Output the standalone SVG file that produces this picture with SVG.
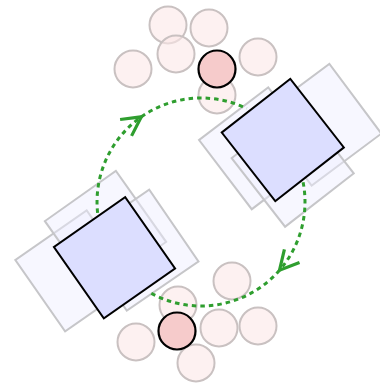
<svg xmlns="http://www.w3.org/2000/svg" width="380" height="385" viewBox="0 0 380 385">
  <style>
    .ghost { fill: #eeeeff; fill-opacity: 0.45; stroke: #c6c6c9; stroke-width: 2; }
    .main { fill: #dcdeff; stroke: #000; stroke-width: 2; }
    .dot { fill: #fbe8e8; fill-opacity: 0.6; stroke: #c9c1c1; stroke-width: 2; }
    .hot { fill: #f6cbcb; stroke: #000; stroke-width: 2.2; }
    .flow { fill: none; stroke: #2f9e2f; stroke-width: 3; stroke-dasharray: 4.5 4; }
  </style>
  <defs>
    <marker id="vhead" markerUnits="userSpaceOnUse" viewBox="-24 -14 28 28" markerWidth="28" markerHeight="28" refX="0" refY="0" orient="auto">
      <path d="M-19,-10 L0,0 L-19,10" fill="none" stroke="#2f9e2f" stroke-width="3.2"/>
    </marker>
  </defs>

  <rect width="380" height="385" fill="#fff"/>

  <!-- upper-right block: earlier positions, then current -->
  <g id="block-a">
    <rect class="ghost" x="-43.5" y="-43.5" width="87" height="87" transform="translate(320.5,124.7) rotate(53.3)"/>
    <rect class="ghost" x="-43.5" y="-43.5" width="87" height="87" transform="translate(260,148.3) rotate(52.7)"/>
    <rect class="ghost" x="-43.5" y="-43.5" width="87" height="87" transform="translate(292.7,165.7) rotate(52.1)"/>
  </g>

  <!-- lower-left block: earlier positions -->
  <g id="block-b">
    <rect class="ghost" x="-43.5" y="-43.5" width="87" height="87" transform="translate(75.9,270.9) rotate(55.1)"/>
    <rect class="ghost" x="-43.5" y="-43.5" width="87" height="87" transform="translate(105.5,231.5) rotate(54.7)"/>
    <rect class="ghost" x="-43.5" y="-43.5" width="87" height="87" transform="translate(138,250.2) rotate(55.5)"/>
  </g>

  <!-- upper cluster of particles -->
  <g id="cluster-top">
    <circle class="dot" cx="168" cy="25" r="18.5"/>
    <circle class="dot" cx="209" cy="28" r="18.5"/>
    <circle class="dot" cx="176" cy="54" r="18.5"/>
    <circle class="dot" cx="133" cy="69" r="18.5"/>
    <circle class="dot" cx="258" cy="57" r="18.5"/>
    <circle class="dot" cx="217" cy="95" r="18.5"/>
  </g>
  <g id="particle-top">
    <circle class="hot" cx="217" cy="69" r="18.5"/>
  </g>

  <!-- lower cluster of particles -->
  <g id="cluster-bottom">
    <circle class="dot" cx="232" cy="281" r="18.5"/>
    <circle class="dot" cx="178" cy="305" r="18.5"/>
    <circle class="dot" cx="219" cy="328" r="18.5"/>
    <circle class="dot" cx="258" cy="326" r="18.5"/>
    <circle class="dot" cx="136" cy="342" r="18.5"/>
    <circle class="dot" cx="196" cy="363" r="18.5"/>
  </g>
  <g id="particle-bottom">
    <circle class="hot" cx="177" cy="331" r="18.5"/>
  </g>

  <!-- circulation arcs, centre (201,202), radius 104 -->
  <g id="connectors">
    <path class="flow" d="M97.6,212.9 A104,104 0 0 1 141.4,116.8" marker-end="url(#vhead)"/>
    <path class="flow" d="M141.4,116.8 A104,104 0 0 1 246.6,108.5"/>
    <path class="flow" d="M303.1,182.2 A104,104 0 0 1 279.5,270.2" marker-end="url(#vhead)"/>
    <path class="flow" d="M279.5,270.2 A104,104 0 0 1 148.2,291.6"/>
  </g>

  <!-- current block positions -->
  <g id="block-a-now">
    <rect class="main" x="-43.5" y="-43.5" width="87" height="87" transform="translate(282.8,140) rotate(52)"/>
  </g>
  <g id="block-b-now">
    <rect class="main" x="-43.5" y="-43.5" width="87" height="87" transform="translate(114.5,257.7) rotate(55)"/>
  </g>
</svg>
